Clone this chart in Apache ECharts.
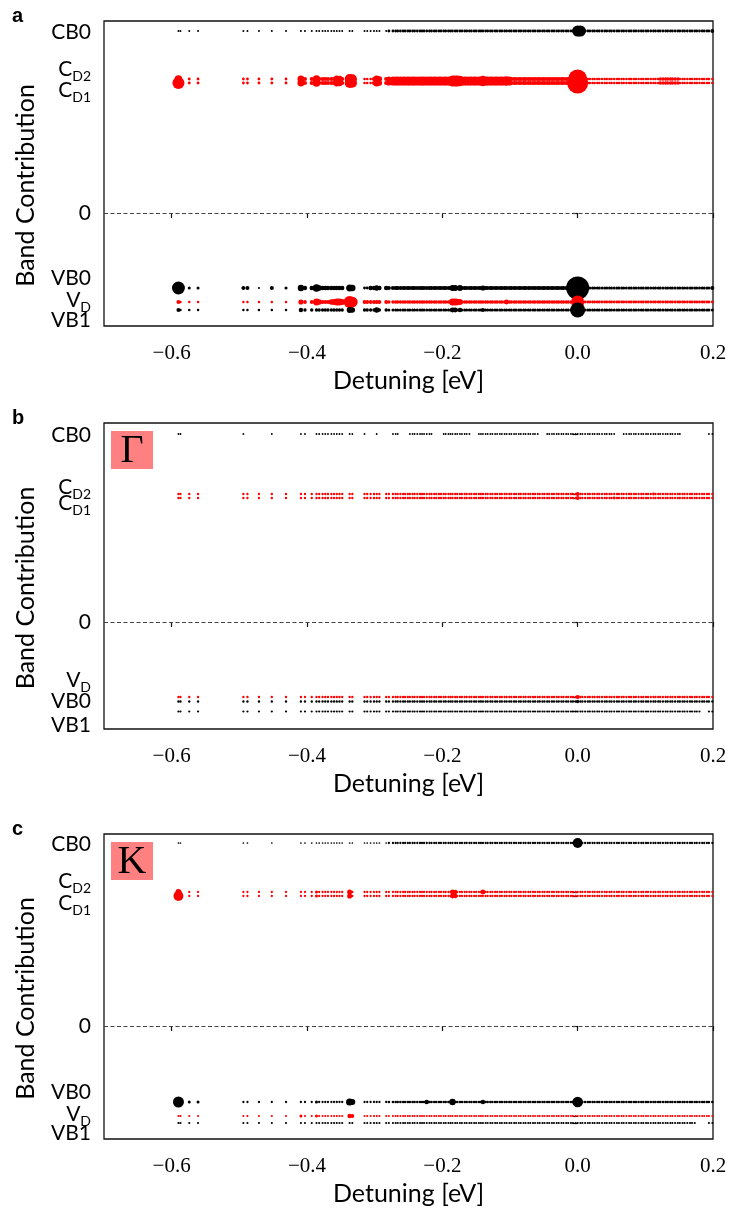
<!DOCTYPE html>
<html><head><meta charset="utf-8">
<script src="https://cdn.jsdelivr.net/npm/echarts@6/dist/echarts.min.js"></script>
<style>html,body{margin:0;padding:0;background:#fff}#c{width:730px;height:1220px}</style>
</head><body><div id="c"></div><script>
// exciton detunings (eV)
const detuning = [
 -0.590,-0.587,-0.574,-0.561,-0.494,-0.488,-0.471,-0.452,-0.431,-0.409,-0.403,-0.393,
 -0.386,-0.382,-0.377,-0.373,-0.369,-0.364,-0.360,-0.356,-0.352,-0.348,-0.337,-0.333,
 -0.315,-0.311,-0.306,-0.301,-0.297,-0.293,-0.283,-0.279,
 -0.273,-0.269,-0.266,-0.262,-0.258,-0.255,-0.251,-0.248,-0.244,-0.241,-0.237,-0.233,
 -0.230,-0.227,-0.223,-0.219,-0.216,-0.212,-0.209,-0.205,-0.202,-0.198,-0.195,-0.191,
 -0.188,-0.185,-0.181,-0.178,-0.174,-0.171,-0.167,-0.164,-0.160,-0.157,-0.153,-0.150,
 -0.146,-0.143,-0.140,-0.136,-0.133,-0.129,-0.126,-0.122,-0.119,-0.115,-0.112,-0.108,
 -0.105,-0.101,-0.098,-0.094,-0.091,-0.087,-0.084,-0.080,-0.077,-0.073,-0.070,-0.066,
 -0.063,-0.059,-0.056,-0.052,-0.049,-0.045,-0.042,-0.038,-0.035,-0.031,-0.028,-0.024,
 -0.021,-0.017,-0.014,-0.010,-0.007,-0.003,0.000,0.004,0.007,0.011,0.015,0.018,0.022,
 0.025,0.029,0.032,0.036,0.040,0.043,0.047,0.050,0.054,0.058,0.061,0.065,0.068,0.072,
 0.076,0.079,0.083,0.086,0.090,0.094,0.097,0.101,0.104,0.108,0.112,0.115,0.119,0.122,
 0.126,0.130,0.133,0.137,0.140,0.144,0.148,0.151,0.155,0.158,0.162,0.166,0.169,0.173,
 0.176,0.180,0.184,0.187,0.191,0.194,0.199
];
// bands: 0 CB0, 1 C_D2, 2 C_D1, 3 VB0, 4 V_D, 5 VB1
const bandIsDefect = [false, true, true, false, true, false];
const levelsA = [1.82, 1.34, 1.30, -0.75, -0.89, -0.97];
const levelsB = [1.88, 1.28, 1.24, -0.795, -0.75, -0.895];
const levelsC = [1.83, 1.34, 1.30, -0.76, -0.90, -0.97];
const yRangeA = [-1.13, 1.92];
const yRangeB = [-1.07, 1.99];
const yRangeC = [-1.13, 1.92];
// tick-label positions (ascending) and their texts
const labelLevelsA = [-1.075, -0.87, -0.655, 0, 1.23, 1.435, 1.81];
const labelTextsA = ['VB1', 'V_D', 'VB0', '0', 'C_D1', 'C_D2', 'CB0'];
const labelLevelsB = [-1.03, -0.795, -0.585, 0, 1.185, 1.345, 1.87];
const labelTextsB = ['VB1', 'VB0', 'V_D', '0', 'C_D1', 'C_D2', 'CB0'];
const labelLevelsC = [-1.075, -0.88, -0.66, 0, 1.23, 1.445, 1.82];
const labelTextsC = ['VB1', 'V_D', 'VB0', '0', 'C_D1', 'C_D2', 'CB0'];
const xTicks = [-0.6, -0.4, -0.2, 0.0, 0.2];
const xTickLabels = ['\u22120.6', '\u22120.4', '\u22120.2', '0.0', '0.2'];
const panelLetters = ['a', 'b', 'c'];
const panelTags = [null, '\u0393', 'K'];

// contribution weights: segments [band(s), x0, x1, w] and single excitons [band(s), x, w]
const segA = [
 [0,-0.60,-0.28,0.007],[0,-0.28,0.20,0.014],
 [[1,2],-0.60,-0.42,0.014],[[1,2],-0.42,-0.28,0.03],[[1,2],-0.28,-0.10,0.045],[[1,2],-0.10,-0.003,0.03],[[1,2],0.0,0.20,0.012],[[1,2],0.12,0.15,0.02],
 [3,-0.60,-0.42,0.016],[3,-0.42,-0.28,0.035],[3,-0.28,-0.003,0.03],[3,0.0,0.20,0.016],
 [4,-0.60,-0.42,0.011],[4,-0.42,-0.28,0.025],[4,-0.28,-0.003,0.02],[4,0.0,0.20,0.015],
 [5,-0.60,-0.42,0.011],[5,-0.42,-0.28,0.02],[5,-0.28,0.20,0.016]
];
const peakA = [
 [0,0.000,0.21],[0,0.004,0.21],[0,0.199,0.025],
 [1,-0.590,0.1],[2,-0.590,0.25],[[1,2],-0.409,0.085],[[1,2],-0.386,0.1],[[1,2],-0.356,0.085],[[1,2],-0.352,0.07],
 [[1,2],-0.337,0.17],[[1,2],-0.333,0.15],[[1,2],-0.315,0.012],[[1,2],-0.311,0.012],[[1,2],-0.306,0.012],
 [[1,2],-0.297,0.09],[[1,2],-0.293,0.05],[[1,2],-0.185,0.085],[[1,2],-0.181,0.085],[[1,2],-0.178,0.085],
 [[1,2],-0.174,0.07],[[1,2],-0.140,0.07],[[1,2],-0.105,0.05],[1,0.000,0.63],[2,0.000,0.77],
 [3,-0.590,0.29],[3,-0.494,0.028],[3,-0.488,0.028],[3,-0.452,0.028],[3,-0.471,0.008],[3,-0.409,0.07],
 [3,-0.386,0.1],[3,-0.382,0.05],[3,-0.337,0.085],[3,-0.333,0.07],[3,-0.315,0.014],[3,-0.311,0.014],
 [3,-0.297,0.05],[3,-0.185,0.06],[3,-0.181,0.06],[3,-0.174,0.06],[3,-0.140,0.045],[3,0.000,0.92],[3,0.199,0.028],
 [4,-0.590,0.028],[4,-0.409,0.045],[4,-0.386,0.085],[4,-0.382,0.05],[4,-0.364,0.05],[4,-0.360,0.06],
 [4,-0.356,0.085],[4,-0.352,0.085],[4,-0.348,0.06],[4,-0.337,0.25],[4,-0.333,0.2],[4,-0.297,0.03],
 [4,-0.185,0.085],[4,-0.181,0.085],[4,-0.178,0.07],[4,-0.174,0.06],[4,-0.105,0.04],[4,0.000,0.3],
 [5,-0.590,0.028],[5,-0.409,0.035],[5,-0.337,0.06],[5,-0.333,0.05],[5,-0.297,0.05],[5,-0.185,0.04],
 [5,-0.181,0.04],[5,-0.174,0.035],[5,-0.140,0.03],[5,0.000,0.39]
];
const segB = [
 [0,-0.60,0.20,0.006],[[1,2],-0.60,0.20,0.0095],[3,-0.60,0.20,0.0095],[4,-0.60,0.20,0.0095],[5,-0.60,0.20,0.0085],
 [0,-0.262,-0.250,0],[0,-0.214,-0.200,0],[0,-0.157,-0.150,0],[0,-0.056,-0.048,0],[0,0.055,0.066,0],[0,0.152,0.193,0],
 [5,0.181,0.192,0]
];
const peakB = [
 [0,-0.574,0],[0,-0.561,0],[0,-0.488,0],[0,-0.471,0],[0,-0.431,0],[0,-0.393,0],[0,-0.311,0],[0,-0.306,0],
 [0,-0.301,0],[0,-0.293,0],[0,-0.283,0],[0,-0.279,0],
 [[1,2],0.000,0.025],[2,0.054,0.015],[1,0.112,0.014],[3,0.000,0.02],[4,0.000,0.03]
];
const segC = [
 [0,-0.60,-0.28,0.005],[0,-0.28,0.20,0.009],[[1,2],-0.60,0.20,0.009],
 [3,-0.60,-0.28,0.009],[3,-0.28,0.20,0.012],[4,-0.60,0.20,0.008],[5,-0.60,0.20,0.008],[5,0.176,0.191,0]
];
const peakC = [
 [0,-0.574,0],[0,-0.561,0],[0,-0.471,0],[0,-0.431,0],[0,0.000,0.17],
 [1,-0.590,0.06],[2,-0.590,0.17],[[1,2],-0.386,0.016],[[1,2],-0.337,0.045],[[1,2],-0.185,0.04],[[1,2],-0.181,0.035],[1,-0.140,0.04],
 [3,-0.590,0.21],[3,-0.574,0.016],[3,-0.561,0.016],[3,-0.386,0.016],[3,-0.337,0.09],[3,-0.333,0.06],
 [3,-0.223,0.035],[3,-0.185,0.07],[3,-0.140,0.035],[3,0.000,0.2],
 [4,-0.409,0.016],[4,-0.386,0.016],[4,-0.337,0.035],[4,-0.333,0.025]
];

const panels = [
 {levels: levelsA, yr: yRangeA, ll: labelLevelsA, lt: labelTextsA, seg: segA, peak: peakA},
 {levels: levelsB, yr: yRangeB, ll: labelLevelsB, lt: labelTextsB, seg: segB, peak: peakB},
 {levels: levelsC, yr: yRangeC, ll: labelLevelsC, lt: labelTextsC, seg: segC, peak: peakC}
];
const gridBoxes = [
 {left: 104, top: 21, width: 609, height: 305},
 {left: 104, top: 423, width: 609, height: 306},
 {left: 104, top: 834, width: 609, height: 305}
];

function has(b, band) { return Array.isArray(b) ? b.indexOf(band) >= 0 : b === band; }
function weight(seg, peak, band, x) {
  let w = 0;
  seg.forEach(s => { if (has(s[0], band) && x >= s[1] - 1e-9 && x <= s[2] + 1e-9) w = s[3]; });
  peak.forEach(p => { if (has(p[0], band) && Math.abs(p[1] - x) < 5e-4) w = p[2]; });
  return w;
}
function richLabel(t) {
  if (t.indexOf('_') > 0) { const a = t.split('_'); return '{m|' + a[0] + '}{s|' + a[1] + '}'; }
  return '{m|' + t + '}';
}

const grid = [], xAxis = [], yAxis = [], series = [], graphic = [];
panels.forEach((p, i) => {
  grid.push(Object.assign({show: true, borderColor: '#111', borderWidth: 1.3, backgroundColor: 'transparent'}, gridBoxes[i]));
  xAxis.push({
    type: 'value', gridIndex: i, min: -0.7, max: 0.2,
    axisLine: {show: false}, splitLine: {show: false},
    axisTick: {show: true, customValues: xTicks, length: 5, lineStyle: {color: '#111', width: 1.2}},
    axisLabel: {customValues: xTicks, margin: 17, color: '#000', fontFamily: 'Liberation Serif', fontSize: 21,
      showMinLabel: true, showMaxLabel: true,
      formatter: v => { const k = xTicks.findIndex(t => Math.abs(t - v) < 1e-9); return k >= 0 ? xTickLabels[k] : ''; }},
    name: 'Detuning [eV]', nameLocation: 'middle', nameGap: 42,
    nameTextStyle: {color: '#000', fontFamily: 'Lato', fontSize: 25}
  });
  // axis ends carry blank placeholders so that no real tick or label is dropped by end-label handling
  const ticks = [p.yr[0]].concat(p.levels.concat([0]).sort((a, b) => a - b), [p.yr[1]]);
  const labelVals = [p.yr[0]].concat(p.ll, [p.yr[1]]);
  yAxis.push({
    type: 'value', gridIndex: i, min: p.yr[0], max: p.yr[1],
    axisLine: {show: false}, splitLine: {show: false},
    axisTick: {show: true, customValues: ticks, length: 5, lineStyle: {color: '#111', width: 1.2}},
    axisLabel: {customValues: labelVals, margin: 13, color: '#000', showMinLabel: false, showMaxLabel: false,
      formatter: v => { const k = p.ll.findIndex(t => Math.abs(t - v) < 1e-9); return k >= 0 ? richLabel(p.lt[k]) : ' '; },
      rich: {
        m: {fontFamily: 'Lato', fontSize: 21, lineHeight: 19, verticalAlign: 'middle', color: '#000'},
        s: {fontFamily: 'Lato', fontSize: 14, height: 5, lineHeight: 19, verticalAlign: 'bottom', color: '#000'}
      }},
    name: 'Band Contribution', nameLocation: 'middle', nameGap: 66,
    nameTextStyle: {color: '#000', fontFamily: 'Lato', fontSize: 25, padding: [0, 24, 0, 0]}
  });
  p.levels.forEach((lev, b) => {
    const data = [];
    detuning.forEach(x => { const w = weight(p.seg, p.peak, b, x); if (w > 0) data.push([x, lev, w]); });
    const s = {
      type: 'scatter', xAxisIndex: i, yAxisIndex: i, data: data, silent: true, animation: false,
      symbol: 'circle', symbolSize: d => 24 * Math.sqrt(d[2]),
      itemStyle: {color: bandIsDefect[b] ? '#ff0000' : '#000000', opacity: 1},
      z: 2
    };
    if (b === 0) {
      s.markLine = {silent: true, symbol: 'none', label: {show: false}, animation: false,
        lineStyle: {type: [4, 2.5], color: '#444', width: 1}, data: [{yAxis: 0}]};
    }
    series.push(s);
  });
  const g = gridBoxes[i];
  graphic.push({type: 'text', left: 12, top: g.top - 15,
    style: {text: panelLetters[i], font: 'bold 20px "Liberation Sans"', fill: '#000'}});
  if (panelTags[i]) {
    graphic.push({type: 'rect', shape: {x: g.left + 7, y: g.top + 8, width: 42, height: 38},
      style: {fill: '#ff8080'}, z: 10});
    graphic.push({type: 'text', x: g.left + 28, y: g.top + 28, z: 11,
      style: {text: panelTags[i], font: '40px "Liberation Serif"', fill: '#000', align: 'center', verticalAlign: 'middle'}});
  }
});

const chart = echarts.init(document.getElementById('c'), null, {renderer: 'canvas'});
chart.setOption({animation: false, backgroundColor: '#fff', grid, xAxis, yAxis, series, graphic});
</script></body></html>
